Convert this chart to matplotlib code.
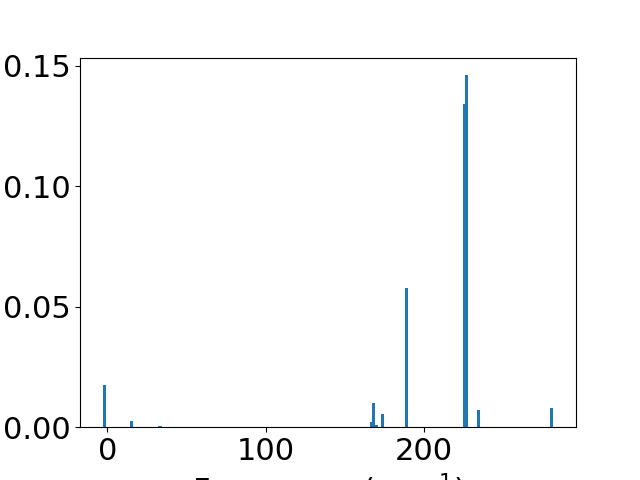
import numpy as np
from matplotlib import pyplot as plt

# frequencies (cm^-1) and intensities
freqs = [-2.0, 15.2, 33.2, 166.6, 168.1, 169.5, 173.8, 189.0, 225.3, 226.8, 234.4, 280.5]
intens = [0.0175, 0.0025, 0.0004, 0.002, 0.0100, 0.0008, 0.0054, 0.0578, 0.1341, 0.1460, 0.0071, 0.0079]

plt.rcParams['font.size'] = 22

fig, ax = plt.subplots(figsize=(6.4, 4.8), dpi=100)
ax.bar(np.array(freqs), np.array(intens), width=2)
ax.set_xlabel('Frequency (cm$^{-1}$)')
fig.savefig('out.png')
